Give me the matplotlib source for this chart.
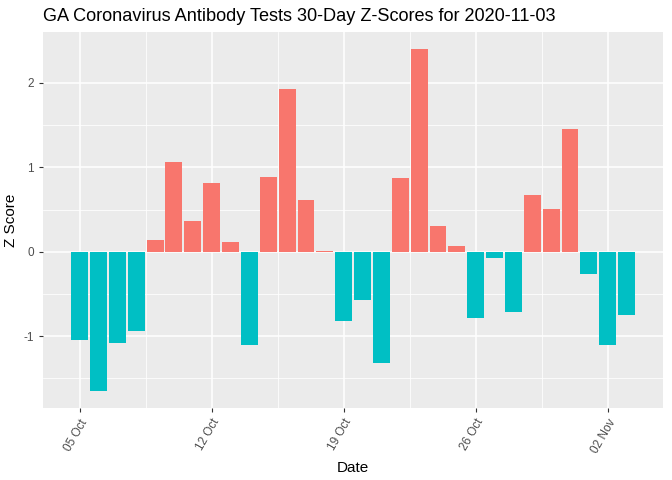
import matplotlib.pyplot as plt
import matplotlib.dates as mdates
import numpy as np
import pandas as pd

# 30 days of z-scores ending 2020-11-03
dates = pd.date_range("2020-10-05", "2020-11-03", freq="D")
z_scores = [-1.05, -1.65, -1.08, -0.94, 0.14, 1.06, 0.37, 0.81, 0.12, -1.11,
            0.89, 1.93, 0.61, 0.01, -0.82, -0.57, -1.32, 0.87, 2.40, 0.30,
            0.07, -0.78, -0.08, -0.71, 0.67, 0.51, 1.46, -0.26, -1.11, -0.75]
tick_dates = pd.to_datetime(["2020-10-05", "2020-10-12", "2020-10-19",
                             "2020-10-26", "2020-11-02"])
tick_labels = ["05 Oct", "12 Oct", "19 Oct", "26 Oct", "02 Nov"]

plt.rcParams['font.family'] = ['Liberation Sans', 'DejaVu Sans']
plt.rcParams['axes.unicode_minus'] = False

fig = plt.figure(figsize=(6.72, 4.80), dpi=100)
ax = fig.add_axes([0.064, 0.15, 0.923, 0.783])
ax.set_facecolor("#EBEBEB")

z = np.array(z_scores)
colors = np.where(z > 0, "#F8766D", "#00BFC4")
ax.bar(dates, z, width=0.9, color=colors, zorder=2)

# ggplot-style limits (5% expansion)
xmin = mdates.date2num(dates[0]) - 0.45
xmax = mdates.date2num(dates[-1]) + 0.45
pad = (xmax - xmin) * 0.05
ax.set_xlim(xmin - pad, xmax + pad)
ymin, ymax = z.min(), z.max()
ypad = (ymax - ymin) * 0.05
ax.set_ylim(ymin - ypad, ymax + ypad)

ax.set_xticks(mdates.date2num(tick_dates))
ax.set_xticklabels(tick_labels, rotation=60, ha="right", va="top",
                   rotation_mode="anchor")
minor_x = mdates.date2num(tick_dates[:-1]) + 3.5
ax.set_xticks(minor_x, minor=True)
ax.set_yticks([-1, 0, 1, 2])
ax.set_yticks([-1.5, -0.5, 0.5, 1.5], minor=True)

ax.grid(which="major", color="white", linewidth=1.1, zorder=0)
ax.grid(which="minor", color="white", linewidth=0.55, zorder=0)
ax.set_axisbelow(True)
for s in ax.spines.values():
    s.set_visible(False)

ax.tick_params(which="major", length=3, color="#333333", labelcolor="#4D4D4D",
               labelsize=8.5, width=0.8)
ax.tick_params(which="minor", length=0)

ax.set_xlabel("Date", fontsize=11, labelpad=4)
ax.set_ylabel("Z Score", fontsize=11, labelpad=4)
ax.set_title("GA Coronavirus Antibody Tests 30-Day Z-Scores for 2020-11-03",
             fontsize=13.1, loc="left", x=0, pad=8)

fig.savefig("out.png", dpi=100)
